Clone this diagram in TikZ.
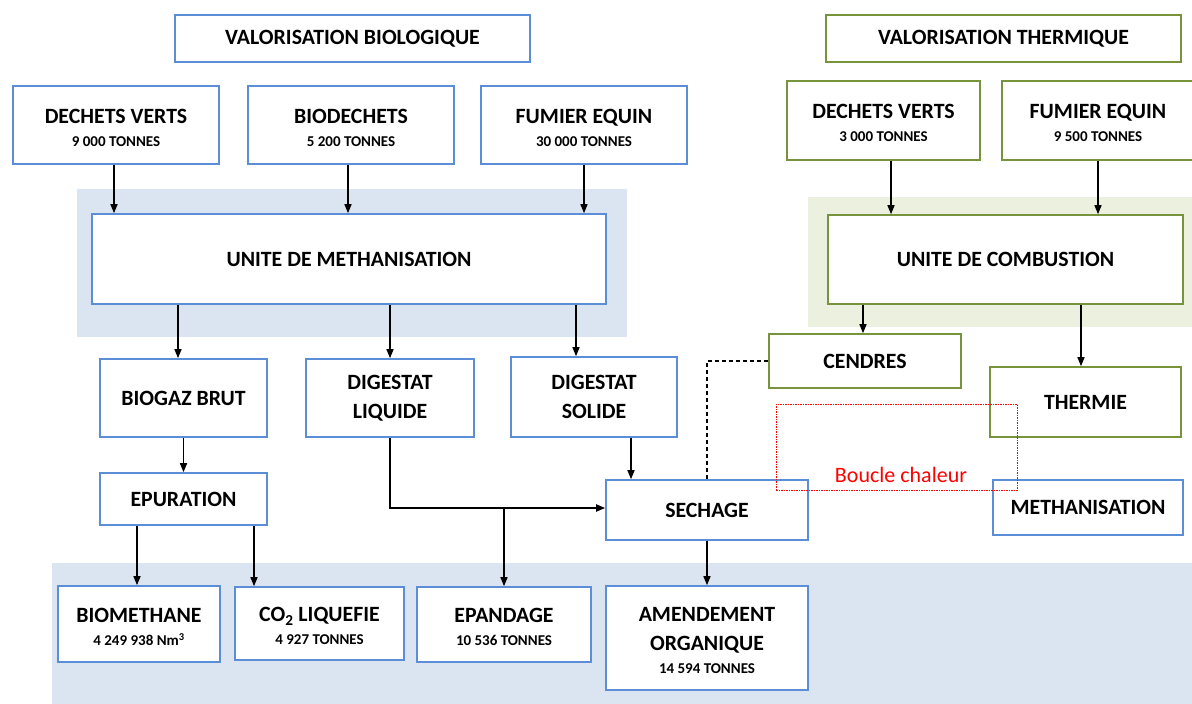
\documentclass[tikz,border=0pt]{standalone}
\usepackage{fontspec}
\setmainfont{Carlito}
\usetikzlibrary{arrows.meta,calc}
\definecolor{bborder}{RGB}{91,142,214}
\definecolor{gborder}{RGB}{119,147,60}
\definecolor{bgblue}{RGB}{219,228,241}
\definecolor{bggreen}{RGB}{235,241,222}
\definecolor{loopred}{RGB}{255,0,0}
\newcommand\smalltxt[1]{{\fontsize{15}{18}\selectfont #1}}
\newcommand\tstrut{\rule{0pt}{20pt}}
\begin{document}
\begin{tikzpicture}[x=1pt,y=-1pt,
  box/.style={draw, line width=1.6pt, fill=white, align=center, inner sep=0pt,
    font=\bfseries\fontsize{21.8}{29}\selectfont},
  bluebox/.style={box, draw=bborder},
  greenbox/.style={box, draw=gborder},
  arr/.style={line width=1.4pt, -{Triangle[length=9pt,width=7pt]}},
  dashline/.style={line width=1.4pt, dash pattern=on 4pt off 3pt},
  loopbox/.style={draw=loopred, line width=0.8pt, dash pattern=on 1.5pt off 1pt, inner sep=0pt},
  looptext/.style={text=loopred, font=\fontsize{22}{26}\selectfont}
]
\useasboundingbox (0,0) rectangle (1192,704);
% backgrounds
\fill[bgblue] (77,189) rectangle (627,337);
\fill[bggreen] (808,197) rectangle (1192,327);
\fill[bgblue] (52,563) rectangle (1192,704);

% titles
\node[bluebox, minimum width=355pt, minimum height=47pt] (vb) at (352.5,38.5) {VALORISATION BIOLOGIQUE};
\node[greenbox, minimum width=355pt, minimum height=47pt] (vt) at (1003.5,38.5) {VALORISATION THERMIQUE};

% inputs
\node[bluebox, minimum width=206pt, minimum height=78pt] (dv1) at (116,125) {\tstrut DECHETS VERTS\\[-6pt]\smalltxt{9 000 TONNES}};
\node[bluebox, minimum width=206pt, minimum height=78pt] (bd) at (351,125) {\tstrut BIODECHETS\\[-6pt]\smalltxt{5 200 TONNES}};
\node[bluebox, minimum width=206pt, minimum height=78pt] (fe1) at (584,125) {\tstrut FUMIER EQUIN\\[-6pt]\smalltxt{30 000 TONNES}};
\node[greenbox, minimum width=193pt, minimum height=79pt] (dv2) at (883.5,120.5) {\tstrut DECHETS VERTS\\[-6pt]\smalltxt{3 000 TONNES}};
\node[greenbox, minimum width=192pt, minimum height=79pt] (fe2) at (1098,120.5) {\tstrut FUMIER EQUIN\\[-6pt]\smalltxt{9 500 TONNES}};

% units
\node[bluebox, minimum width=514pt, minimum height=90pt] (um) at (349,259) {UNITE DE METHANISATION};
\node[greenbox, minimum width=355pt, minimum height=89pt] (uc) at (1005.5,259.5) {UNITE DE COMBUSTION};

% intermediate
\node[bluebox, minimum width=167pt, minimum height=78pt] (bb) at (183.5,398) {BIOGAZ BRUT};
\node[bluebox, minimum width=168pt, minimum height=78pt] (dl) at (390,398) {DIGESTAT\\LIQUIDE};
\node[bluebox, minimum width=166pt, minimum height=80pt] (ds) at (594,397) {DIGESTAT\\SOLIDE};
\node[greenbox, minimum width=192pt, minimum height=54pt] (ce) at (865,361) {CENDRES};
\node[greenbox, minimum width=191pt, minimum height=70pt] (th) at (1085.5,402) {THERMIE};
\node[bluebox, minimum width=167pt, minimum height=52pt] (ep) at (183.5,499) {EPURATION};
\node[bluebox, minimum width=202pt, minimum height=60pt] (se) at (707,510) {SECHAGE};
\node[bluebox, minimum width=190pt, minimum height=55pt] (me) at (1088,507.5) {METHANISATION};

% outputs
\node[bluebox, minimum width=162pt, minimum height=76pt] (bm) at (139,624) {\tstrut BIOMETHANE\\[-6pt]\smalltxt{4 249 938 Nm\textsuperscript{3}}};
\node[bluebox, minimum width=169pt, minimum height=73pt] (co) at (319.5,623.5) {\tstrut CO\textsubscript{2} LIQUEFIE\\[-6pt]\smalltxt{4 927 TONNES}};
\node[bluebox, minimum width=174pt, minimum height=75pt] (epa) at (504,624.5) {\tstrut EPANDAGE\\[-6pt]\smalltxt{10 536 TONNES}};
\node[bluebox, minimum width=202pt, minimum height=104pt] (am) at (707,638) {\tstrut AMENDEMENT\\ORGANIQUE\\[-6pt]\smalltxt{14 594 TONNES}};

% arrows biological
\draw[arr] ([xshift=-2pt]dv1.south) -- ([xshift=-2pt]dv1.south |- um.north);
\draw[arr] ([xshift=-3pt]bd.south) -- ([xshift=-3pt]bd.south |- um.north);
\draw[arr] (fe1.south) -- (fe1.south |- um.north);
\draw[arr] ([xshift=-5.5pt]bb.north |- um.south) -- ([xshift=-5.5pt]bb.north);
\draw[arr] (dl.north |- um.south) -- (dl.north);
\draw[arr] ([xshift=-18pt]ds.north |- um.south) -- ([xshift=-18pt]ds.north);
\draw[arr] (bb.south) -- (ep.north);
\draw[arr] ([xshift=-2pt]bm.north |- ep.south) -- ([xshift=-2pt]bm.north);
\draw[arr] ([xshift=-65.5pt]co.north |- ep.south) -- ([xshift=-65.5pt]co.north);
\coordinate (j) at ([yshift=2pt]epa.north |- se.west);
\draw[arr, line width=1.8pt] (dl.south) |- ([yshift=2pt]se.west);
\draw[arr] (j) -- (epa.north);
\draw[arr] ([xshift=-76pt]se.north |- ds.south) -- ([xshift=-76pt]se.north);
\draw[arr] (se.south) -- (am.north);

% arrows thermal
\draw[arr] ([xshift=7.5pt]dv2.south) -- ([xshift=7.5pt]dv2.south |- uc.north);
\draw[arr] (fe2.south) -- (fe2.south |- uc.north);
\draw[arr] ([xshift=-2pt]ce.north |- uc.south) -- ([xshift=-2pt]ce.north);
\draw[arr] ([xshift=-4.5pt]th.north |- uc.south) -- ([xshift=-4.5pt]th.north);
\draw[dashline] (ce.west) -| (se.north);

% heat loop
\node[loopbox, minimum width=241pt, minimum height=86pt] (loop) at (896.5,447) {};
\node[looptext] (bc) at (901,475) {Boucle chaleur};
\end{tikzpicture}
\end{document}
